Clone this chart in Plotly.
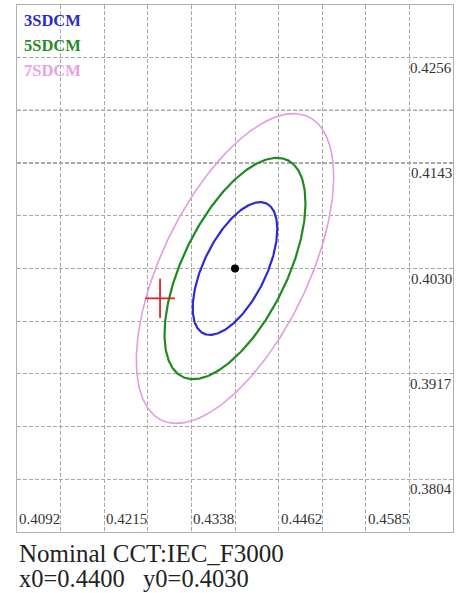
import numpy as np
import plotly.graph_objects as go

# ---- data ----
x0 = 0.4400
y0 = 0.4030
nominal_label = "Nominal CCT:IEC_F3000"
sdcm_names = ["3SDCM", "5SDCM", "7SDCM"]
sdcm_steps = [3, 5, 7]
sdcm_colors = ["#2b2bd6", "#1f8a1f", "#e39be3"]
sdcm_text_colors = ["#2b2bc8", "#2a8a2a", "#e6a3e6"]
sdcm_widths = [2.2, 2.2, 1.6]
# 1-step MacAdam ellipse parameters (IEC F3000)
ell_a = 0.00278
ell_b = 0.00137
ell_theta_deg = 53.2
x_tick_labels = ["0.4092", "0.4215", "0.4338", "0.4462", "0.4585"]
y_tick_labels = ["0.4256", "0.4143", "0.4030", "0.3917", "0.3804"]
x_grid_step = 0.0061667
y_grid_step = 0.00565
test_x = [0.4294]
test_y = [0.3998]
cross_half = 0.0021

font_family = "Liberation Serif"

fig = go.Figure()

t = np.linspace(0, 2 * np.pi, 361)
th = np.deg2rad(ell_theta_deg)
for name, n, col, w in zip(sdcm_names, sdcm_steps, sdcm_colors, sdcm_widths):
    a = n * ell_a
    b = n * ell_b
    ex = x0 + a * np.cos(t) * np.cos(th) - b * np.sin(t) * np.sin(th)
    ey = y0 + a * np.cos(t) * np.sin(th) + b * np.sin(t) * np.cos(th)
    fig.add_trace(go.Scatter(x=ex, y=ey, mode="lines", name=name,
                             line=dict(color=col, width=w), hoverinfo="skip"))

# centre point
fig.add_trace(go.Scatter(x=[x0], y=[y0], mode="markers",
                         marker=dict(color="black", size=8), hoverinfo="skip"))

# test point (red cross)
for tx, ty in zip(test_x, test_y):
    fig.add_trace(go.Scatter(x=[tx - cross_half, tx + cross_half, None, tx, tx],
                             y=[ty, ty, None, ty - cross_half, ty + cross_half],
                             mode="lines", line=dict(color="#e02525", width=1.8),
                             hoverinfo="skip"))

xr = [x0 - 5 * x_grid_step, x0 + 5 * x_grid_step]
yr = [y0 - 5 * y_grid_step, y0 + 5 * y_grid_step]
xgrid = [x0 + k * x_grid_step for k in range(-5, 6)]
ygrid = [y0 + k * y_grid_step for k in range(-5, 6)]

axis_common = dict(showticklabels=False, ticks="", zeroline=False,
                   showgrid=True, gridcolor="#a8a8a8", gridwidth=1,
                   griddash="4px,2px", showline=True, mirror=True,
                   linecolor="#b0b0b0", linewidth=1.2)
fig.update_xaxes(range=xr, tickvals=xgrid, **axis_common)
fig.update_yaxes(range=yr, tickvals=ygrid, **axis_common)

# two darker horizontal grid lines
for gy in [ygrid[8], ygrid[7]]:
    fig.add_shape(type="line", xref="paper", x0=0, x1=1, yref="y", y0=gy, y1=gy,
                  line=dict(color="#505050", width=1.2, dash="4px,2px"), layer="below")

ann = []
for lab in x_tick_labels:
    ann.append(dict(x=float(lab), xref="x", xanchor="left", xshift=0,
                    y=yr[0], yref="y", yanchor="bottom", yshift=3,
                    text=lab, showarrow=False,
                    font=dict(family=font_family, size=15, color="#333333")))
for lab in y_tick_labels:
    ann.append(dict(x=xr[1], xref="x", xanchor="right", xshift=1,
                    y=float(lab), yref="y", yanchor="top", yshift=0,
                    text=lab, showarrow=False,
                    font=dict(family=font_family, size=15, color="#333333")))
for i, (name, col) in enumerate(zip(sdcm_names, sdcm_text_colors)):
    ann.append(dict(x=0.012, xref="paper", xanchor="left",
                    y=1 - (15.5 + 25 * i) / 527, yref="paper", yanchor="middle",
                    text="<b>%s</b>" % name, showarrow=False,
                    font=dict(family=font_family, size=16.5, color=col)))
ann.append(dict(x=0.0, xref="paper", xanchor="left", xshift=0,
                y=-0.040, yref="paper", yanchor="middle",
                text=nominal_label, showarrow=False,
                font=dict(family=font_family, size=25, color="#222222")))
ann.append(dict(x=0.0, xref="paper", xanchor="left", xshift=0,
                y=-0.089, yref="paper", yanchor="middle",
                text="x0=%.4f&nbsp;&nbsp;&nbsp;y0=%.4f" % (x0, y0), showarrow=False,
                font=dict(family=font_family, size=24.5, color="#222222")))

fig.update_layout(width=461, height=593,
                  margin=dict(l=17, r=8, t=5, b=61),
                  paper_bgcolor="white", plot_bgcolor="white",
                  showlegend=False, annotations=ann)

fig.write_html("out.html", config={"displayModeBar": False},
               post_script="document.body.style.margin='0';"
                           "document.body.style.overflow='hidden';")
